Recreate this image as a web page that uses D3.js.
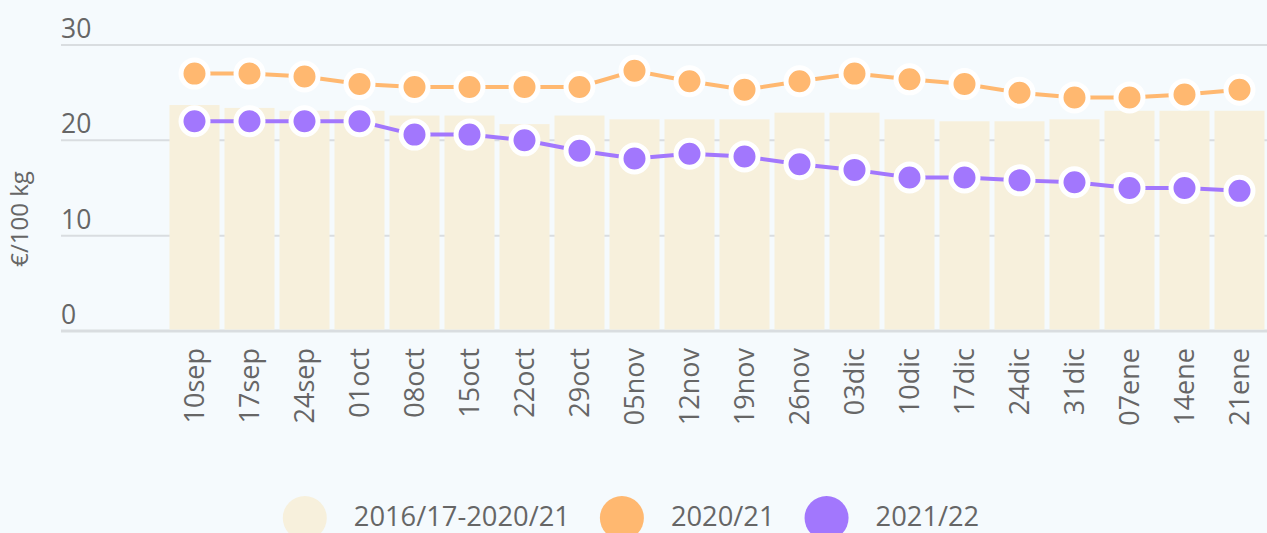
<!DOCTYPE html>
<html>
<head>
<meta charset="utf-8">
<script src="https://cdn.jsdelivr.net/npm/d3@7"></script>
<style>
  html, body { margin: 0; padding: 0; background: #f5fafd; }
  text { font-family: "Open Sans", sans-serif; fill: #666; }
</style>
</head>
<body>
<div class="chart"></div>
<script>
var weeks = ["10sep", "17sep", "24sep", "01oct", "08oct", "15oct", "22oct", "29oct", "05nov", "12nov",
  "19nov", "26nov", "03dic", "10dic", "17dic", "24dic", "31dic", "07ene", "14ene", "21ene"];
var avg5 = [23.7, 23.4, 23.1, 23.1, 22.6, 22.6, 21.7, 22.6, 22.2, 22.2,
  22.2, 22.9, 22.9, 22.2, 22.0, 22.0, 22.2, 23.1, 23.1, 23.1];
var s2021 = [27.0, 27.0, 26.7, 25.9, 25.6, 25.6, 25.6, 25.6, 27.3, 26.2,
  25.3, 26.2, 27.0, 26.4, 25.9, 25.0, 24.5, 24.5, 24.8, 25.3];
var s2122 = [22.0, 22.0, 22.0, 22.0, 20.6, 20.6, 20.0, 18.9, 18.1, 18.6,
  18.3, 17.5, 16.9, 16.1, 16.1, 15.8, 15.6, 15.0, 15.0, 14.7];
var yTicks = [0, 10, 20, 30];
var legendNames = ["2016/17-2020/21", "2020/21", "2021/22"];
var colors = ["#f7f0dc", "#ffb870", "#a277fd"];

var svgWidth = 1267;
var svgHeight = 533;

var svg = d3.select(".chart")
  .append("svg")
  .attr("width", svgWidth)
  .attr("height", svgHeight)
  .style("display", "block");

svg.append("rect")
  .attr("width", svgWidth)
  .attr("height", svgHeight)
  .attr("fill", "#f5fafd");

var xScale = d3.scaleBand()
  .domain(weeks)
  .range([167, 1267])
  .paddingInner(0.09)
  .paddingOuter(0.045);

var yScale = d3.scaleLinear()
  .domain([0, 30])
  .range([331, 45]);

// gridlines + tick labels
var grid = svg.append("g");
grid.selectAll("line")
  .data(yTicks)
  .enter().append("line")
    .attr("x1", 61)
    .attr("x2", svgWidth)
    .attr("y1", function(d) { return yScale(d); })
    .attr("y2", function(d) { return yScale(d); })
    .attr("stroke", "#d9dde0")
    .attr("stroke-width", function(d) { return d === 0 ? 3 : 2; });

grid.selectAll("text")
  .data(yTicks)
  .enter().append("text")
    .attr("x", 61)
    .attr("y", function(d) { return yScale(d) - 7; })
    .style("font-size", "26.5px")
    .text(function(d) { return d; });

svg.append("text")
  .attr("transform", "translate(28," + 219 + ") rotate(-90)")
  .attr("text-anchor", "middle")
  .style("font-size", "24px")
  .text("€/100 kg");

// bars (5 year average)
svg.append("g").selectAll("rect")
  .data(avg5)
  .enter().append("rect")
    .attr("x", function(d, i) { return xScale(weeks[i]); })
    .attr("width", xScale.bandwidth())
    .attr("y", function(d) { return yScale(d); })
    .attr("height", function(d) { return yScale(0) - 1.5 - yScale(d); })
    .attr("fill", colors[0]);

var cx = function(i) { return xScale(weeks[i]) + xScale.bandwidth() / 2; };

function drawSeries(values, color) {
  var line = d3.line()
    .x(function(d, i) { return cx(i); })
    .y(function(d) { return yScale(d); });

  svg.append("path")
    .datum(values)
    .attr("d", line)
    .attr("fill", "none")
    .attr("stroke", color)
    .attr("stroke-width", 4);

  svg.append("g").selectAll("circle")
    .data(values)
    .enter().append("circle")
      .attr("cx", function(d, i) { return cx(i); })
      .attr("cy", function(d) { return yScale(d); })
      .attr("r", 13.5)
      .attr("fill", color)
      .attr("stroke", "#fff")
      .attr("stroke-width", 5);
}

drawSeries(s2021, colors[1]);
drawSeries(s2122, colors[2]);

// x labels
svg.append("g").selectAll("text")
  .data(weeks)
  .enter().append("text")
    .attr("transform", function(d) {
      return "translate(" + (xScale(d) + xScale.bandwidth() / 2) + ",348) rotate(-90)";
    })
    .attr("text-anchor", "end")
    .attr("dy", "0.36em")
    .style("font-size", "27px")
    .text(function(d) { return d; });

// legend
var legend = svg.append("g");
var lx = 0;
legendNames.forEach(function(name, i) {
  var item = legend.append("g").attr("transform", "translate(" + lx + ",0)");
  item.append("circle")
    .attr("cx", 22)
    .attr("cy", 518)
    .attr("r", 22)
    .attr("fill", colors[i]);
  var t = item.append("text")
    .attr("x", 71)
    .attr("y", 526)
    .style("font-size", "27.3px")
    .text(name);
  lx += 71 + t.node().getComputedTextLength() + 30;
});
var legendW = lx - 30;
legend.attr("transform", "translate(" + (631 - legendW / 2) + ",0)");
</script>
</body>
</html>
